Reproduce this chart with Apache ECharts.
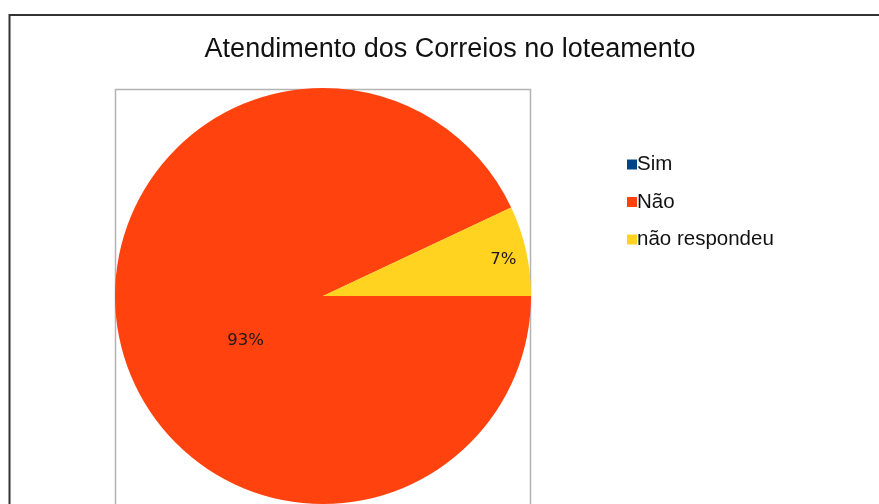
<!DOCTYPE html>
<html><head><meta charset="utf-8">
<script src="https://cdn.jsdelivr.net/npm/echarts@6/dist/echarts.min.js"></script>
<style>html,body{margin:0;padding:0;background:#fff}#c{width:879px;height:504px}</style>
</head><body><div id="c"></div>
<script>
const categories = ['Sim', 'Não', 'não respondeu'];
const values = [0, 93, 7];
const colors = ['#004586', '#FF420E', '#FFD320'];
const labelOffsets = [[0, 0], [27, 21], [76, -13]];

const chart = echarts.init(document.getElementById('c'));
chart.setOption({
  animation: false,
  backgroundColor: '#fff',
  title: {
    text: 'Atendimento dos Correios no loteamento',
    left: 445, textAlign: 'center', top: 31,
    textStyle: { fontFamily: 'Liberation Sans', fontSize: 27, fontWeight: 'normal', color: '#111' }
  },
  legend: {
    orient: 'vertical', left: 622, top: 149,
    itemWidth: 10, itemHeight: 10, itemGap: 16.5, icon: 'rect',
    textStyle: { fontFamily: 'Liberation Sans', fontSize: 20.5, color: '#111', padding: [0,0,0,-5] },
    data: categories
  },
  graphic: [
    { type: 'rect', shape: { x: 9.5, y: 15, width: 1000, height: 600 }, style: { fill: 'none', stroke: '#333', lineWidth: 2 }, z: -1 },
    { type: 'rect', shape: { x: 115.5, y: 89.5, width: 415, height: 500 }, style: { fill: 'none', stroke: '#b3b3b3', lineWidth: 1.5 }, z: -1 }
  ],
  series: [{
    type: 'pie',
    center: [323, 296], radius: 208,
    startAngle: 0, clockwise: true,
    avoidLabelOverlap: false,
    label: {
      show: true, position: 'inside',
      formatter: p => p.value > 0 ? Math.round(p.percent) + '%' : '',
      fontFamily: 'DejaVu Sans', fontSize: 16.5, color: '#1a1a1a'
    },
    labelLine: { show: false },
    emphasis: { disabled: true },
    data: categories.map((n, i) => ({
      name: n, value: values[i],
      itemStyle: { color: colors[i] },
      label: { offset: labelOffsets[i] }
    }))
  }]
});
</script></body></html>
